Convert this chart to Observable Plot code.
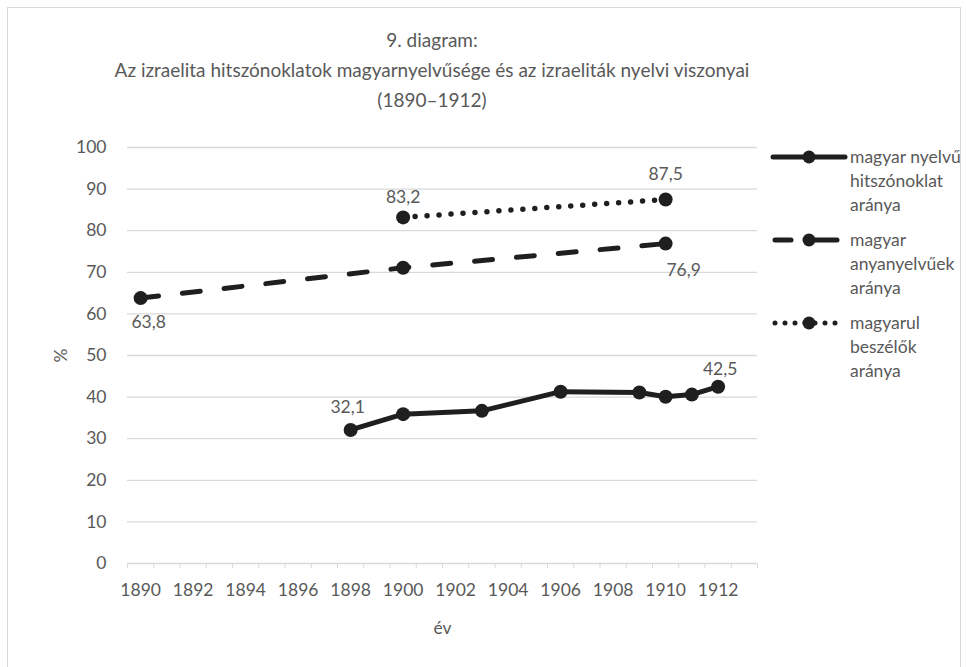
<!DOCTYPE html>
<html><head><meta charset="utf-8">
<script src="https://cdn.jsdelivr.net/npm/d3@7"></script>
<script src="https://cdn.jsdelivr.net/npm/@observablehq/plot@0.6"></script>
<style>
body{margin:0;background:#fff;font-family:Lato,"Open Sans",sans-serif;color:#595959;}
#wrap{position:relative;width:966px;height:667px;overflow:hidden;background:#fff;}
#frame{position:absolute;left:7px;top:7px;width:952px;height:700px;border:1px solid #d9d9d9;}
#title{position:absolute;left:0;top:25px;width:864px;text-align:center;font-size:19px;line-height:30px;color:#595959;}
#chart{position:absolute;left:0;top:130px;}
#legend{position:absolute;left:770px;top:0;}
.item{position:absolute;left:0;width:200px;}
.item svg{position:absolute;left:0;top:0;}
.item div{position:absolute;left:80px;top:0;font-size:17.5px;line-height:24px;color:#595959;white-space:nowrap;}
</style></head><body>
<div id="wrap">
<div id="frame"></div>
<div id="title">9. diagram:<br>Az izraelita hitszónoklatok magyarnyelvűsége és az izraeliták nyelvi viszonyai<br>(1890–1912)</div>
<div id="chart"></div>
<div id="legend"></div>
</div>
<script>
// Data
const xTickLabels = [1890,1892,1894,1896,1898,1900,1902,1904,1906,1908,1910,1912];
const yTicks = [0,10,20,30,40,50,60,70,80,90,100];
const seriesNames = ["magyar nyelvű hitszónoklat aránya","magyar anyanyelvűek aránya","magyarul beszélők aránya"];
const legendLines = [["magyar nyelvű","hitszónoklat","aránya"],["magyar","anyanyelvűek","aránya"],["magyarul","beszélők","aránya"]];
const solidYears = [1898,1900,1903,1906,1909,1910,1911,1912];
const solidVals  = [32.1,35.9,36.7,41.3,41.1,40.1,40.6,42.5];
const dashYears  = [1890,1900,1910];
const dashVals   = [63.8,71.1,76.9];
const dotYears   = [1900,1910];
const dotVals    = [83.2,87.5];

const solid = solidYears.map((x,i)=>({x, y:solidVals[i]}));
const dash  = dashYears.map((x,i)=>({x, y:dashVals[i]}));
const dot   = dotYears.map((x,i)=>({x, y:dotVals[i]}));
const boundaries = d3.range(1889.5, 1914, 1);
const fmt = v => v.toFixed(1).replace(".", ",");
const ink = "#1f1f1f";
const grey = "#595959";
const grid = "#d9d9d9";
const FS = 17.5;

function lab(d, dx, dy){
  return Plot.text([d], {x:"x", y:"y", text: d=>fmt(d.y), dx, dy, fill:grey, fontSize:FS});
}

const plot = Plot.plot({
  width: 770, height: 537,
  marginLeft: 127, marginRight: 13, marginTop: 17, marginBottom: 104,
  style: {fontFamily: "Lato, 'Open Sans', sans-serif", color: grey, background: "transparent", fontSize: FS + "px"},
  x: {domain: [1889.5, 1913.5]},
  y: {domain: [0, 100]},
  marks: [
    Plot.gridY(yTicks.filter(t=>t>0), {stroke: grid, strokeOpacity: 1, strokeWidth: 1.3}),
    Plot.ruleY([0], {stroke: grid, strokeWidth: 1.5}),
    Plot.axisX(boundaries, {tickSize: 5, stroke: grid, strokeOpacity: 1, tickFormat: null, label: null, text: null}),
    Plot.axisX(xTickLabels, {tickSize: 0, tickPadding: 20, fontSize: FS, fill: grey, label: null, tickFormat: d=>String(d)}),
    Plot.axisY(yTicks, {tickSize: 0, tickPadding: 21, fontSize: FS, fill: grey, label: "%", labelAnchor: "center", labelArrow: "none", labelOffset: 73}),
    Plot.text(["év"], {frameAnchor: "bottom", lineAnchor: "middle", dy: 65, fill: grey, fontSize: FS}),
    Plot.line(solid, {x:"x", y:"y", stroke: ink, strokeWidth: 5, strokeLinejoin: "round"}),
    Plot.line(dash, {x:"x", y:"y", stroke: ink, strokeWidth: 5, strokeDasharray: "18,24", strokeLinecap: "round"}),
    Plot.line(dot, {x:"x", y:"y", stroke: ink, strokeWidth: 5.5, strokeDasharray: "0,12", strokeLinecap: "round"}),
    Plot.dot(solid, {x:"x", y:"y", r: 7, fill: ink}),
    Plot.dot(dash, {x:"x", y:"y", r: 7, fill: ink}),
    Plot.dot(dot, {x:"x", y:"y", r: 7, fill: ink}),
    lab(solid[0], -3, -23),
    lab(solid[solid.length-1], 2, -17),
    lab(dot[0], 0, -20),
    lab(dot[1], 0, -25),
    lab(dash[0], 8, 24),
    lab(dash[2], 18, 27)
  ]
});
document.getElementById("chart").appendChild(plot);

// Legend
const legend = document.getElementById("legend");
const tops = [145, 228, 311];
seriesNames.forEach((name, i) => {
  const item = document.createElement("div");
  item.className = "item";
  item.style.top = tops[i] + "px";
  item.title = name;
  let line;
  if (i === 2) {
    line = `<line x1="5" y1="12" x2="72" y2="12" stroke="${ink}" stroke-width="5" stroke-dasharray="0,10" stroke-linecap="round"/>`;
  } else if (i === 1) {
    line = `<line x1="5" y1="12" x2="21" y2="12" stroke="${ink}" stroke-width="5" stroke-linecap="round"/><line x1="39" y1="12" x2="67" y2="12" stroke="${ink}" stroke-width="5" stroke-linecap="round"/>`;
  } else {
    line = `<line x1="3" y1="12" x2="75" y2="12" stroke="${ink}" stroke-width="5" stroke-linecap="round"/>`;
  }
  item.innerHTML = `<svg width="80" height="24">${line}<circle cx="39" cy="12" r="6.5" fill="${ink}"/></svg><div>${legendLines[i].join("<br>")}</div>`;
  legend.appendChild(item);
});
</script>
</body></html>
